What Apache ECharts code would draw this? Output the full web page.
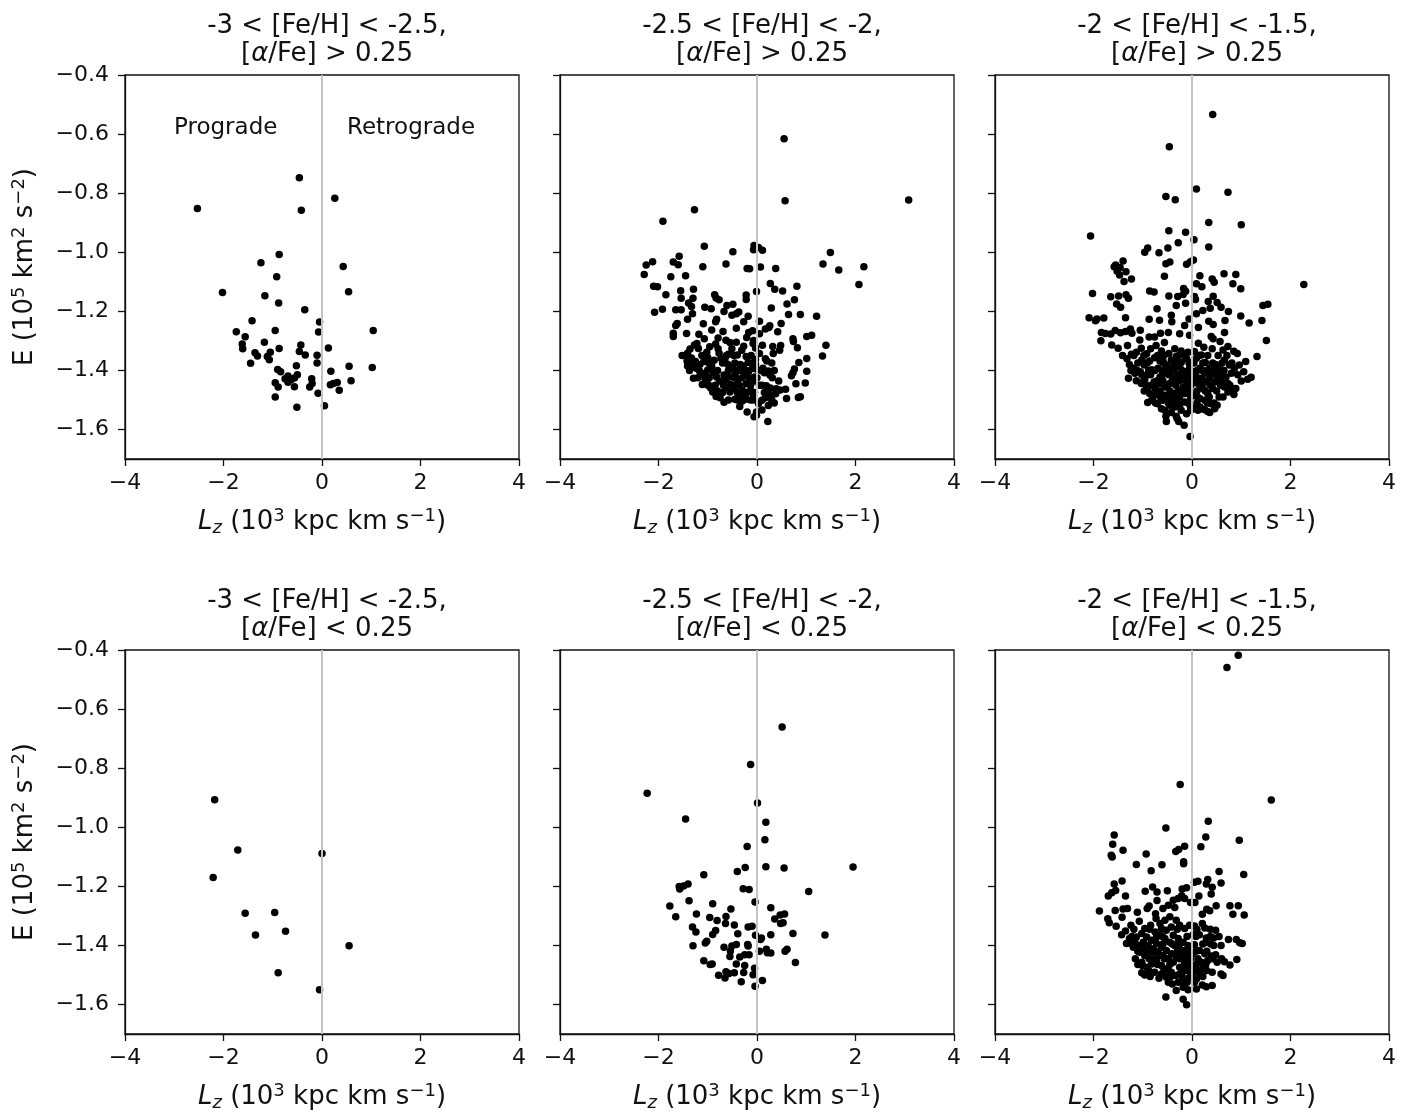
<!DOCTYPE html>
<html>
<head>
<meta charset="utf-8">
<script src="https://cdn.jsdelivr.net/npm/echarts@6/dist/echarts.min.js"></script>
<style>
  html, body { margin: 0; padding: 0; background: #fff; }
  #chart { width: 1425px; height: 1117px; }
</style>
</head>
<body>
<div id="chart"></div>
<script>
// tick values
const xTicks = [-4, -2, 0, 2, 4];
const yTicks = [-1.6, -1.4, -1.2, -1.0, -0.8, -0.6, -0.4];

// panel titles
const metalBins = ['-3 < [Fe/H] < -2.5,', '-2.5 < [Fe/H] < -2,', '-2 < [Fe/H] < -1.5,'];
const alphaCuts = ['> 0.25', '< 0.25'];

// [Lz, E] pairs
// -3 < [Fe/H] < -2.5, high alpha
const hiAlpha1 = [
  [-2.53, -0.852], [-0.46, -0.748], [-0.42, -0.858], [0.26, -0.817], [-0.87, -1.008],
  [-1.24, -1.036], [-0.92, -1.083], [0.43, -1.048], [-2.02, -1.136], [-1.16, -1.147],
  [-0.88, -1.172], [0.54, -1.134], [-0.35, -1.195], [-1.42, -1.232], [-0.05, -1.236],
  [-1.74, -1.269], [-0.95, -1.265], [-0.07, -1.270], [1.04, -1.265], [-1.56, -1.286],
  [-1.62, -1.311], [-1.61, -1.327], [-1.17, -1.305], [-0.87, -1.326], [-0.43, -1.314],
  [-0.46, -1.336], [-0.34, -1.348], [0.13, -1.324], [-1.36, -1.340], [-1.31, -1.351],
  [-1.05, -1.339], [-1.11, -1.353], [-1.07, -1.364], [-1.45, -1.376], [-0.10, -1.349],
  [-0.10, -1.375], [-0.52, -1.384], [0.55, -1.386], [1.02, -1.390], [-0.90, -1.397],
  [-0.84, -1.405], [0.18, -1.403], [-0.69, -1.419], [-0.50, -1.415], [-0.75, -1.428],
  [-0.63, -1.432], [-0.56, -1.426], [-0.69, -1.440], [-0.95, -1.442], [-0.89, -1.456],
  [-0.56, -1.455], [-0.21, -1.428], [-0.20, -1.444], [-0.25, -1.456], [0.17, -1.449],
  [0.23, -1.444], [0.31, -1.441], [0.59, -1.435], [0.35, -1.467], [-0.08, -1.477],
  [-0.95, -1.490], [-0.51, -1.525], [0.05, -1.520]
];

// -2.5 < [Fe/H] < -2, high alpha
const hiAlpha2 = [
  [0.55, -0.616], [0.57, -0.826], [3.08, -0.823], [-1.27, -0.856], [-1.91, -0.895],
  [-1.07, -0.980], [-0.49, -0.998], [-0.06, -0.977], [-0.07, -0.992], [0.03, -0.984],
  [0.11, -0.993], [1.49, -1.001], [1.34, -1.040], [1.66, -1.060], [2.17, -1.049],
  [2.07, -1.109], [-2.12, -1.032], [-2.25, -1.043], [-2.29, -1.075], [-1.58, -1.014],
  [-1.70, -1.033], [-1.60, -1.042], [-1.75, -1.083], [-1.45, -1.080], [-1.10, -1.049],
  [-0.63, -1.040], [-0.20, -1.055], [-0.15, -1.056], [0.07, -1.050], [0.38, -1.055],
  [-2.10, -1.115], [-2.02, -1.117], [-1.85, -1.144], [-1.55, -1.130], [-1.29, -1.125],
  [-1.54, -1.156], [-1.30, -1.156], [-1.39, -1.172], [-2.08, -1.203], [-1.92, -1.193],
  [-1.65, -1.195], [-1.54, -1.195], [-1.31, -1.208], [-1.33, -1.184], [-0.86, -1.144],
  [-0.83, -1.155], [-0.77, -1.161], [-0.22, -1.145], [-0.22, -1.160], [-0.01, -1.133],
  [0.27, -1.106], [0.36, -1.125], [0.52, -1.131], [0.81, -1.115], [0.76, -1.161],
  [0.61, -1.175], [0.29, -1.189], [-1.06, -1.186], [-0.93, -1.191], [-0.61, -1.180],
  [-0.49, -1.176], [-0.67, -1.201], [-0.51, -1.213], [-0.37, -1.202], [-0.42, -1.208],
  [-0.18, -1.217], [0.64, -1.211], [0.88, -1.211], [1.21, -1.217], [-1.41, -1.227],
  [-1.62, -1.241], [-1.65, -1.248], [-1.09, -1.242], [-0.84, -1.235], [-0.82, -1.227],
  [-0.27, -1.235], [0.05, -1.234], [0.26, -1.249], [0.17, -1.260], [0.24, -1.255],
  [0.49, -1.241], [-1.70, -1.274], [-1.70, -1.285], [-1.43, -1.275], [-1.18, -1.278],
  [-1.07, -1.293], [-0.79, -1.290], [-0.63, -1.298], [-0.55, -1.306], [-0.42, -1.305],
  [-0.21, -1.289], [-0.17, -1.272], [-0.09, -1.266], [-0.07, -1.299], [-0.08, -1.309],
  [0.05, -1.276], [0.42, -1.269], [0.73, -1.293], [0.74, -1.302], [1.01, -1.285],
  [1.11, -1.281], [1.40, -1.315], [0.82, -1.323], [0.48, -1.316], [0.32, -1.319],
  [0.46, -1.332], [0.33, -1.343], [1.33, -1.351], [1.01, -1.360], [0.85, -1.373],
  [1.01, -1.403], [0.76, -1.395], [0.73, -1.408], [0.70, -1.418], [0.79, -1.445],
  [0.98, -1.443], [0.88, -1.489], [0.84, -1.492], [0.60, -1.495], [0.44, -1.436],
  [0.26, -1.416], [0.23, -1.402], [0.20, -1.368], [0.17, -1.361], [0.12, -1.393],
  [0.15, -1.408], [-0.03, -1.363], [-0.03, -1.380], [-0.02, -1.395], [-0.05, -1.422],
  [-0.05, -1.436], [0.05, -1.450], [0.19, -1.452], [0.27, -1.460], [0.39, -1.462],
  [0.47, -1.466], [0.58, -1.464], [0.38, -1.479], [0.26, -1.481], [0.35, -1.510],
  [0.23, -1.519], [0.17, -1.493], [0.10, -1.501], [0.03, -1.512], [0.10, -1.534],
  [-0.01, -1.541], [-0.06, -1.557], [-0.01, -1.552], [0.22, -1.573], [-0.20, -1.541],
  [-0.13, -1.500], [-0.22, -1.498], [-0.30, -1.504], [-0.35, -1.522], [-0.45, -1.498],
  [-0.67, -1.508], [-0.75, -1.493], [-0.90, -1.473], [-0.80, -1.470], [-0.94, -1.460],
  [-0.99, -1.448], [-1.05, -1.430], [-1.13, -1.415], [-1.17, -1.401], [-1.23, -1.393],
  [-1.32, -1.389], [-1.41, -1.385], [-1.42, -1.368], [-1.52, -1.350], [-1.41, -1.342],
  [-1.36, -1.328], [-1.27, -1.314], [-1.22, -1.309], [-1.19, -1.326], [-1.33, -1.358],
  [-1.25, -1.370], [-1.16, -1.380], [-1.08, -1.370], [-1.00, -1.356], [-1.02, -1.339],
  [-0.96, -1.320], [-0.84, -1.311], [-0.79, -1.327], [-0.77, -1.342], [-0.73, -1.359],
  [-0.87, -1.366], [-0.92, -1.385], [-1.00, -1.399], [-1.05, -1.410], [-0.89, -1.406],
  [-0.82, -1.422], [-0.76, -1.436], [-0.67, -1.416], [-0.64, -1.433], [-0.55, -1.422],
  [-0.53, -1.448], [-0.63, -1.458], [-0.55, -1.473], [-0.47, -1.461], [-0.40, -1.445],
  [-0.38, -1.429], [-0.44, -1.410], [-0.49, -1.393], [-0.59, -1.380], [-0.65, -1.361],
  [-0.58, -1.345], [-0.51, -1.327], [-0.40, -1.348], [-0.31, -1.332], [-0.27, -1.318],
  [-0.22, -1.353], [-0.18, -1.373], [-0.28, -1.385], [-0.31, -1.402], [-0.26, -1.416],
  [-0.17, -1.405], [-0.09, -1.393], [-0.15, -1.427], [-0.22, -1.445], [-0.30, -1.466],
  [-0.20, -1.475], [-0.13, -1.468], [-0.07, -1.481], [-0.30, -1.488], [-0.37, -1.481],
  [-1.29, -1.427], [-1.11, -1.448], [-0.83, -1.488], [-0.34, -1.380], [0.11, -1.315],
  [-0.03, -1.324], [0.05, -1.343], [-0.42, -1.257], [-0.69, -1.268], [-0.92, -1.263],
  // crowded core
  [-1.45, -1.350], [-1.12, -1.350], [-0.62, -1.350], [-0.47, -1.350], [-0.12, -1.350],
  [-1.34, -1.375], [-0.98, -1.375], [-0.70, -1.375], [-0.45, -1.375], [-0.10, -1.375],
  [0.30, -1.375], [-1.37, -1.400], [-0.80, -1.400], [-0.58, -1.400], [-0.40, -1.400],
  [-0.21, -1.400], [0.08, -1.400], [0.35, -1.400], [-1.20, -1.425], [-0.97, -1.425],
  [-0.45, -1.425], [-0.30, -1.425], [0.00, -1.425], [0.31, -1.425], [-1.00, -1.450],
  [-0.85, -1.450], [-0.68, -1.450], [-0.36, -1.450], [-0.13, -1.450], [0.10, -1.450],
  [-0.70, -1.475], [-0.40, -1.475], [-0.05, -1.475], [0.15, -1.475], [-0.58, -1.500],
  [-0.40, -1.500], [-0.08, -1.500], [0.30, -1.500]
];

// -2 < [Fe/H] < -1.5, high alpha
const hiAlpha3 = [
  [0.42, -0.534], [-0.46, -0.643], [0.09, -0.786], [0.73, -0.797], [-0.53, -0.811],
  [-0.34, -0.822], [0.34, -0.899], [1.00, -0.907], [-2.06, -0.945], [-0.47, -0.927],
  [-0.13, -0.932], [0.04, -0.958], [-0.28, -0.968], [0.34, -0.982], [-0.90, -0.986],
  [-0.96, -1.000], [-0.67, -1.002], [-0.49, -0.986], [0.03, -1.026], [-0.03, -1.032],
  [-0.11, -1.041], [-0.45, -1.033], [-0.53, -1.039], [-1.40, -1.030], [-1.55, -1.043],
  [-1.58, -1.049], [-1.46, -1.052], [-1.52, -1.064], [-1.34, -1.066], [-1.47, -1.077],
  [-1.23, -1.091], [-1.38, -1.099], [-0.56, -1.081], [0.16, -1.080], [0.41, -1.091],
  [0.45, -1.102], [0.65, -1.073], [0.89, -1.075], [0.83, -1.107], [0.99, -1.124],
  [2.27, -1.109], [0.09, -1.107], [0.20, -1.117], [-0.17, -1.123], [-0.13, -1.132],
  [-0.18, -1.143], [-0.29, -1.150], [-0.47, -1.148], [-0.86, -1.131], [-0.77, -1.135],
  [0.05, -1.150], [0.07, -1.160], [-0.13, -1.173], [-0.32, -1.180], [-2.02, -1.140],
  [-1.65, -1.151], [-1.49, -1.148], [-1.34, -1.144], [-1.29, -1.156], [-1.53, -1.175],
  [-1.45, -1.186], [-0.71, -1.191], [0.43, -1.149], [0.33, -1.167], [0.51, -1.170],
  [0.37, -1.190], [0.59, -1.186], [0.74, -1.201], [1.44, -1.180], [1.54, -1.176],
  [0.99, -1.216], [1.42, -1.231], [1.16, -1.240], [1.51, -1.299], [1.32, -1.353],
  [1.09, -1.370], [1.20, -1.423], [1.13, -1.430], [-2.09, -1.222], [-1.96, -1.232],
  [-1.93, -1.226], [-1.79, -1.223], [-1.35, -1.222], [-0.87, -1.227], [-0.66, -1.230],
  [-0.42, -1.213], [-0.41, -1.235], [-0.06, -1.226], [-0.15, -1.248], [0.09, -1.208],
  [0.22, -1.197], [0.34, -1.234], [0.43, -1.245], [0.67, -1.231], [0.66, -1.272],
  [-1.84, -1.272], [-1.76, -1.275], [-1.65, -1.277], [-1.56, -1.265], [-1.45, -1.273],
  [-1.35, -1.268], [-1.25, -1.260], [-1.22, -1.274], [-1.05, -1.264], [-1.85, -1.300],
  [-1.63, -1.314], [-1.50, -1.325], [-1.31, -1.316], [-1.41, -1.350], [-1.06, -1.297],
  [-0.87, -1.287], [-0.76, -1.287], [-0.64, -1.274], [-0.48, -1.272], [-0.56, -1.306],
  [-0.25, -1.276], [-0.05, -1.281], [0.13, -1.255], [0.39, -1.285], [0.57, -1.302],
  [0.43, -1.293], [0.73, -1.319], [0.85, -1.335], [0.92, -1.343], [0.63, -1.331],
  [0.41, -1.327], [0.24, -1.322], [0.13, -1.308], [0.05, -1.336], [-0.08, -1.339],
  [-0.22, -1.334], [-0.35, -1.327], [-0.47, -1.343], [-0.62, -1.334], [-0.73, -1.316],
  [-0.84, -1.327], [-0.92, -1.344], [-1.03, -1.325], [-1.13, -1.339], [-1.23, -1.345],
  [-1.32, -1.361], [-1.27, -1.380], [-1.19, -1.393], [-1.29, -1.427], [-1.16, -1.410],
  [-1.05, -1.405], [-0.97, -1.382], [-1.02, -1.365], [-0.86, -1.368], [-0.76, -1.357],
  [-0.65, -1.368], [-0.69, -1.393], [-0.82, -1.398], [-0.92, -1.416], [-1.03, -1.444],
  [-0.89, -1.456], [-0.77, -1.439], [-0.65, -1.422], [-0.55, -1.405], [-0.52, -1.382],
  [-0.42, -1.365], [-0.32, -1.353], [-0.22, -1.373], [-0.11, -1.361], [-0.01, -1.373],
  [0.09, -1.359], [0.19, -1.348], [0.27, -1.373], [0.36, -1.393], [0.48, -1.380],
  [0.56, -1.393], [0.66, -1.365], [0.76, -1.382], [0.86, -1.393], [0.96, -1.382],
  [1.05, -1.405], [1.00, -1.436], [0.89, -1.461], [0.85, -1.482], [0.73, -1.473],
  [0.66, -1.456], [0.63, -1.490], [0.51, -1.518], [0.46, -1.530], [0.36, -1.543],
  [0.26, -1.533], [0.16, -1.524], [0.05, -1.530], [-0.03, -1.524], [-0.11, -1.547],
  [-0.16, -1.586], [-0.27, -1.573], [-0.32, -1.555], [-0.42, -1.543], [-0.53, -1.555],
  [-0.52, -1.573], [-0.04, -1.624], [-0.62, -1.530], [-0.70, -1.513], [-0.82, -1.501],
  [-0.90, -1.509], [-0.77, -1.484], [-0.65, -1.470], [-0.55, -1.456], [-0.45, -1.444],
  [-0.35, -1.427], [-0.25, -1.416], [-0.15, -1.405], [-0.05, -1.393], [0.05, -1.405],
  [0.16, -1.393], [0.26, -1.410], [0.36, -1.427], [0.46, -1.439], [0.56, -1.430],
  [0.42, -1.461], [0.32, -1.478], [0.22, -1.461], [0.12, -1.444], [0.02, -1.433],
  [-0.08, -1.444], [-0.18, -1.456], [-0.28, -1.467], [-0.38, -1.478], [-0.49, -1.490],
  [-0.59, -1.501], [-0.35, -1.501], [-0.25, -1.490], [-0.15, -1.478], [-0.05, -1.467],
  [0.05, -1.484], [0.16, -1.495], [0.26, -1.501], [-0.15, -1.507], [-0.25, -1.518],
  [-0.35, -1.524], [-0.45, -1.518], [-0.55, -1.484], [-0.65, -1.444], [-0.75, -1.461],
  [-0.86, -1.478], [-0.96, -1.432], [-0.45, -1.410], [-0.35, -1.393], [-0.25, -1.388],
  [-0.45, -1.393], [-0.59, -1.368], [-0.22, -1.422], [-0.11, -1.427], [-0.01, -1.416],
  [0.09, -1.422], [0.19, -1.427], [0.29, -1.439], [0.39, -1.410], [0.49, -1.416],
  [0.59, -1.410], [0.69, -1.422], [0.80, -1.410], [0.73, -1.444], [0.81, -1.461],
  [0.32, -1.539], [0.39, -1.513], [0.19, -1.530], [-0.30, -1.564],
  // crowded core
  [-1.18, -1.350], [-0.98, -1.350], [-0.70, -1.350], [-0.57, -1.350], [-0.27, -1.350],
  [-0.16, -1.350], [0.14, -1.350], [0.32, -1.350], [0.53, -1.350], [0.71, -1.350],
  [-1.10, -1.375], [-0.91, -1.375], [-0.58, -1.375], [-0.37, -1.375], [-0.27, -1.375],
  [-0.06, -1.375], [0.04, -1.375], [0.22, -1.375], [0.42, -1.375], [0.61, -1.375],
  [0.81, -1.375], [-1.24, -1.400], [-1.11, -1.400], [-0.88, -1.400], [-0.75, -1.400],
  [-0.60, -1.400], [-0.40, -1.400], [-0.20, -1.400], [0.10, -1.400], [0.21, -1.400],
  [0.31, -1.400], [0.44, -1.400], [0.65, -1.400], [-1.02, -1.415], [-0.84, -1.415],
  [-0.60, -1.415], [-0.47, -1.415], [-0.30, -1.415], [-0.06, -1.415], [0.54, -1.415],
  [0.93, -1.415], [-1.13, -1.435], [-0.98, -1.435], [-0.71, -1.435], [-0.59, -1.435],
  [-0.40, -1.435], [-0.26, -1.435], [-0.13, -1.435], [0.07, -1.435], [0.24, -1.435],
  [0.51, -1.435], [0.64, -1.435], [-0.93, -1.450], [-0.82, -1.450], [-0.50, -1.450],
  [-0.33, -1.450], [-0.02, -1.450], [0.17, -1.450], [0.37, -1.450], [0.58, -1.450],
  [0.77, -1.450], [-0.97, -1.470], [-0.71, -1.470], [-0.45, -1.470], [-0.21, -1.470],
  [-0.10, -1.470], [0.10, -1.470], [0.27, -1.470], [0.50, -1.470], [-0.80, -1.490],
  [-0.64, -1.490], [-0.42, -1.490], [-0.30, -1.490], [-0.03, -1.490], [0.11, -1.490],
  [0.35, -1.490], [0.55, -1.490], [-0.74, -1.510], [-0.48, -1.510], [-0.29, -1.510],
  [-0.08, -1.510], [0.10, -1.510], [0.31, -1.510], [0.45, -1.510], [-0.55, -1.535],
  [-0.22, -1.535], [-0.03, -1.535], [0.12, -1.535]
];

// -3 < [Fe/H] < -2.5, low alpha
const loAlpha1 = [
  [-2.18, -0.907], [-1.71, -1.077], [-2.21, -1.170], [0.00, -1.089], [-1.56, -1.291],
  [-0.96, -1.289], [-1.35, -1.365], [-0.74, -1.352], [0.55, -1.401], [-0.89, -1.493],
  [-0.05, -1.550]
];

// -2.5 < [Fe/H] < -2, low alpha
const loAlpha2 = [
  [0.51, -0.661], [-0.13, -0.788], [-2.23, -0.885], [0.01, -0.918], [-1.45, -0.972],
  [0.18, -0.983], [0.16, -1.042], [-0.20, -1.065], [-1.08, -1.161], [-0.40, -1.150],
  [-0.24, -1.136], [0.18, -1.134], [0.55, -1.138], [1.95, -1.135], [-1.58, -1.201],
  [-1.57, -1.209], [-1.49, -1.199], [-1.40, -1.192], [-0.28, -1.208], [-0.16, -1.211],
  [1.05, -1.218], [-1.38, -1.249], [-0.04, -1.253], [-1.77, -1.267], [-0.90, -1.259],
  [-0.53, -1.277], [0.28, -1.273], [0.47, -1.297], [0.56, -1.294], [-1.65, -1.303],
  [-1.23, -1.294], [-0.96, -1.306], [-0.81, -1.316], [-0.63, -1.302], [-0.64, -1.326],
  [-0.46, -1.331], [0.36, -1.311], [0.48, -1.326], [0.53, -1.323], [-1.31, -1.338],
  [-1.24, -1.355], [-0.84, -1.350], [-0.90, -1.363], [-0.39, -1.361], [-0.18, -1.338],
  [-0.10, -1.335], [-0.03, -1.366], [0.07, -1.380], [0.09, -1.375], [0.28, -1.364],
  [0.73, -1.360], [1.38, -1.365], [-1.30, -1.401], [-1.05, -1.392], [-1.02, -1.386],
  [-0.67, -1.406], [-0.51, -1.402], [-0.42, -1.397], [-0.19, -1.397], [-0.18, -1.402],
  [-0.54, -1.419], [-0.55, -1.438], [-0.35, -1.439], [-0.25, -1.432], [-0.16, -1.432],
  [0.05, -1.420], [0.19, -1.413], [0.21, -1.425], [0.28, -1.426], [0.57, -1.420],
  [0.61, -1.413], [0.78, -1.458], [-1.08, -1.452], [-0.95, -1.465], [-0.91, -1.463],
  [-0.42, -1.463], [-0.25, -1.468], [-0.05, -1.477], [-0.78, -1.501], [-0.65, -1.510],
  [-0.63, -1.489], [-0.57, -1.495], [-0.46, -1.493], [-0.27, -1.492], [-0.08, -1.499],
  [-0.32, -1.523], [-0.04, -1.538], [0.11, -1.519]
];

// -2 < [Fe/H] < -1.5, low alpha
const loAlpha3 = [
  [0.94, -0.418], [0.71, -0.459], [-0.24, -0.855], [1.61, -0.908], [-0.53, -1.003],
  [0.33, -0.980], [0.28, -1.033], [0.96, -1.044], [0.18, -1.066], [-1.58, -1.026],
  [-1.61, -1.058], [-1.64, -1.095], [-1.62, -1.101], [-1.40, -1.078], [-0.93, -1.091],
  [-1.13, -1.126], [-0.83, -1.147], [-0.61, -1.127], [-0.33, -1.082], [-0.27, -1.075],
  [-0.15, -1.064], [-0.17, -1.117], [-0.17, -1.124], [0.55, -1.150], [1.05, -1.160],
  [-1.58, -1.192], [-1.42, -1.182], [0.05, -1.186], [0.12, -1.183], [0.32, -1.177],
  [0.29, -1.192], [0.59, -1.189], [0.41, -1.203], [0.39, -1.226], [-1.70, -1.233],
  [-1.63, -1.222], [-1.55, -1.214], [-1.35, -1.233], [-0.80, -1.202], [-0.95, -1.217],
  [-0.71, -1.219], [-0.71, -1.248], [-0.50, -1.215], [-0.20, -1.209], [-0.11, -1.205],
  [-0.21, -1.232], [-0.15, -1.241], [-0.28, -1.241], [-0.38, -1.247], [-0.48, -1.264],
  [-0.35, -1.272], [-0.03, -1.255], [0.06, -1.255], [0.14, -1.233], [0.49, -1.266],
  [0.77, -1.266], [0.94, -1.266], [0.83, -1.295], [1.06, -1.297], [0.30, -1.278],
  [0.36, -1.283], [0.21, -1.295], [-1.88, -1.284], [-1.56, -1.282], [-1.40, -1.277],
  [-1.31, -1.275], [-1.42, -1.305], [-1.11, -1.288], [-0.91, -1.275], [-0.87, -1.267],
  [-0.74, -1.293], [-0.59, -1.275], [-1.71, -1.310], [-1.68, -1.323], [-1.54, -1.335],
  [-1.35, -1.351], [-1.43, -1.364], [-1.24, -1.332], [-1.07, -1.318], [-0.96, -1.343],
  [-0.84, -1.332], [-0.73, -1.309], [-0.65, -1.326], [-0.55, -1.315], [-0.45, -1.303],
  [-0.32, -1.315], [-0.25, -1.332], [-0.15, -1.343], [-0.05, -1.332], [0.05, -1.334],
  [0.21, -1.326], [0.26, -1.341], [0.48, -1.349], [0.02, -1.364], [0.15, -1.364],
  [0.29, -1.375], [0.44, -1.375], [0.59, -1.400], [0.74, -1.380], [0.90, -1.380],
  [1.02, -1.394], [0.97, -1.391], [0.44, -1.400], [0.05, -1.398], [0.15, -1.417],
  [0.26, -1.428], [0.39, -1.436], [0.48, -1.432], [0.32, -1.451], [0.51, -1.457],
  [0.66, -1.455], [0.77, -1.466], [0.91, -1.448], [0.59, -1.497], [0.63, -1.502],
  [0.41, -1.491], [0.15, -1.497], [0.02, -1.489], [-0.08, -1.485], [-0.25, -1.474],
  [-0.15, -1.457], [-0.05, -1.468], [0.05, -1.474], [0.21, -1.480], [0.19, -1.457],
  [0.09, -1.463], [0.41, -1.536], [0.29, -1.540], [0.21, -1.534], [0.09, -1.548],
  [-0.08, -1.550], [-0.18, -1.542], [-0.32, -1.553], [-0.40, -1.531], [-0.28, -1.525],
  [-0.18, -1.519], [-0.53, -1.575], [-0.18, -1.582], [-0.11, -1.601], [-0.52, -1.508],
  [-0.62, -1.497], [-0.67, -1.511], [-0.76, -1.491], [-0.96, -1.500], [-1.02, -1.493],
  [-1.01, -1.468], [-1.02, -1.457], [-0.91, -1.474], [-0.82, -1.463], [-0.72, -1.451],
  [-0.62, -1.468], [-0.52, -1.480], [-0.42, -1.491], [-0.33, -1.502], [-0.38, -1.457],
  [-0.48, -1.445], [-0.59, -1.434], [-0.69, -1.423], [-0.79, -1.411], [-0.89, -1.400],
  [-0.99, -1.389], [-1.09, -1.400], [-1.06, -1.423], [-0.96, -1.434], [-0.87, -1.445],
  [-0.98, -1.417], [-1.16, -1.389], [-1.27, -1.377], [-1.33, -1.394], [-1.19, -1.406],
  [-1.13, -1.372], [-1.02, -1.360], [-0.92, -1.372], [-0.82, -1.383], [-0.72, -1.394],
  [-0.62, -1.406], [-0.52, -1.417], [-0.42, -1.428], [-0.32, -1.440], [-0.22, -1.428],
  [-0.11, -1.440], [-0.25, -1.411], [-0.35, -1.400], [-0.45, -1.389], [-0.55, -1.377],
  [-0.65, -1.366], [-0.75, -1.355], [-0.38, -1.366], [-0.28, -1.377], [-0.18, -1.389],
  [-0.08, -1.400], [-0.15, -1.417], [-0.52, -1.349], [-0.42, -1.338], [-0.62, -1.343],
  [-0.72, -1.372], [-0.82, -1.423], [-0.65, -1.434], [-0.25, -1.497], [-0.05, -1.508],
  [0.09, -1.514], [0.01, -1.428], [0.29, -1.389],
  // crowded core
  [-1.18, -1.345], [-0.86, -1.345], [-0.30, -1.345], [0.10, -1.345], [0.37, -1.345],
  [-1.22, -1.370], [-0.60, -1.370], [-0.10, -1.370], [0.08, -1.370], [0.37, -1.370],
  [0.55, -1.370], [-1.22, -1.395], [-0.97, -1.395], [-0.59, -1.395], [-0.40, -1.395],
  [-0.28, -1.395], [0.22, -1.395], [0.38, -1.395], [-1.10, -1.420], [-0.90, -1.420],
  [-0.75, -1.420], [-0.30, -1.420], [-0.05, -1.420], [0.08, -1.420], [0.30, -1.420],
  [-1.15, -1.445], [-0.76, -1.445], [-0.56, -1.445], [-0.25, -1.445], [-0.03, -1.445],
  [0.12, -1.445], [0.42, -1.445], [0.60, -1.445], [-1.10, -1.465], [-0.70, -1.465],
  [-0.45, -1.465], [-0.13, -1.465], [0.28, -1.465], [-0.88, -1.485], [-0.57, -1.485],
  [-0.48, -1.485], [-0.15, -1.485], [0.10, -1.485], [0.30, -1.485], [-0.85, -1.505],
  [-0.43, -1.505], [-0.20, -1.505], [0.00, -1.505], [0.22, -1.505], [-0.48, -1.525],
  [-0.10, -1.525], [0.05, -1.525]
];

const panelData = [hiAlpha1, hiAlpha2, hiAlpha3, loAlpha1, loAlpha2, loAlpha3];

const FONT = 'DejaVu Sans';
const INK = '#111';
const minus = v => String(v).replace('-', '\u2212');

const colLeft = [125, 560, 995];
const rowTop = [75, 650];
const plotW = 394;
const plotH = 384;

// rich text pieces shared by the axis names
const nameRich = {
    t: { fontFamily: FONT, fontSize: 26, color: INK },
    i: { fontFamily: FONT, fontSize: 26, fontStyle: 'italic', color: INK },
    sub: { fontFamily: FONT, fontSize: 18, fontStyle: 'italic', color: INK, padding: [11, 0, 0, 0] },
    sup: { fontFamily: FONT, fontSize: 18, color: INK, padding: [0, 0, 13, 0] }
};

let grids = [], xAxes = [], yAxes = [], series = [], titles = [];

panelData.forEach((pts, i) => {
    const col = i % 3;
    const row = Math.floor(i / 3);
    const left = colLeft[col];
    const top = rowTop[row];

    grids.push({
        left: left, top: top, width: plotW, height: plotH,
        show: true, borderColor: INK, borderWidth: 1.3, backgroundColor: '#fff'
    });

    xAxes.push({
        gridIndex: i,
        type: 'value',
        min: -4, max: 4, interval: 2,
        axisLine: { show: true, onZero: false, lineStyle: { color: INK, width: 1.3 } },
        axisTick: { show: true, length: 7, lineStyle: { color: INK, width: 1.3 } },
        axisLabel: { fontFamily: FONT, fontSize: 22, color: INK, margin: 13, formatter: minus },
        splitLine: { show: false },
        name: '{i|L}{sub|z}{t| (10}{sup|3}{t| kpc km s}{sup|\u22121}{t|)}',
        nameLocation: 'middle',
        nameGap: 48,
        nameTextStyle: { rich: nameRich }
    });

    yAxes.push({
        gridIndex: i,
        type: 'value',
        min: -1.7, max: -0.4,
        axisLine: { show: true, onZero: false, lineStyle: { color: INK, width: 1.3 } },
        axisTick: { show: true, length: 7, customValues: yTicks, lineStyle: { color: INK, width: 1.3 } },
        axisLabel: {
            show: col === 0, customValues: yTicks,
            fontFamily: FONT, fontSize: 22, color: INK, margin: 16,
            formatter: v => minus(v.toFixed(1))
        },
        splitLine: { show: false },
        name: col === 0 ? '{t|E (10}{sup|5}{t| km}{sup|2}{t| s}{sup|\u22122}{t|)}' : '',
        nameLocation: 'middle',
        nameGap: 84,
        nameTextStyle: { rich: nameRich }
    });

    series.push({
        type: 'scatter',
        xAxisIndex: i, yAxisIndex: i,
        data: pts,
        symbolSize: 7.5,
        itemStyle: { color: '#000', opacity: 1 },
        silent: true,
        markLine: {
            silent: true,
            symbol: 'none',
            label: { show: false },
            lineStyle: { color: '#c4c4c4', width: 2, type: 'solid', opacity: 1 },
            data: [{ xAxis: 0 }]
        },
        z: 3
    });

    titles.push({
        text: metalBins[col] + '\n{t|[}{a|\u03b1}{t|/Fe] ' + alphaCuts[row] + '}',
        left: left + plotW / 2,
        top: top - 68,
        textAlign: 'center',
        textStyle: {
            fontFamily: FONT, fontSize: 26, fontWeight: 'normal', color: INK, lineHeight: 28,
            rich: {
                t: { fontFamily: FONT, fontSize: 26, color: INK, lineHeight: 28 },
                a: { fontFamily: FONT, fontSize: 26, fontStyle: 'italic', color: INK, lineHeight: 28 }
            }
        }
    });
});

const chart = echarts.init(document.getElementById('chart'), null, { renderer: 'canvas' });

chart.setOption({
    backgroundColor: '#fff',
    animation: false,
    title: titles,
    grid: grids,
    xAxis: xAxes,
    yAxis: yAxes,
    series: series,
    graphic: [
        { type: 'text', left: 174, top: 117, style: { text: 'Prograde', fontFamily: FONT, fontSize: 23, fill: INK } },
        { type: 'text', left: 347, top: 117, style: { text: 'Retrograde', fontFamily: FONT, fontSize: 23, fill: INK } }
    ]
});

window.addEventListener('resize', () => {
    chart.resize();
});
</script>
</body>
</html>
